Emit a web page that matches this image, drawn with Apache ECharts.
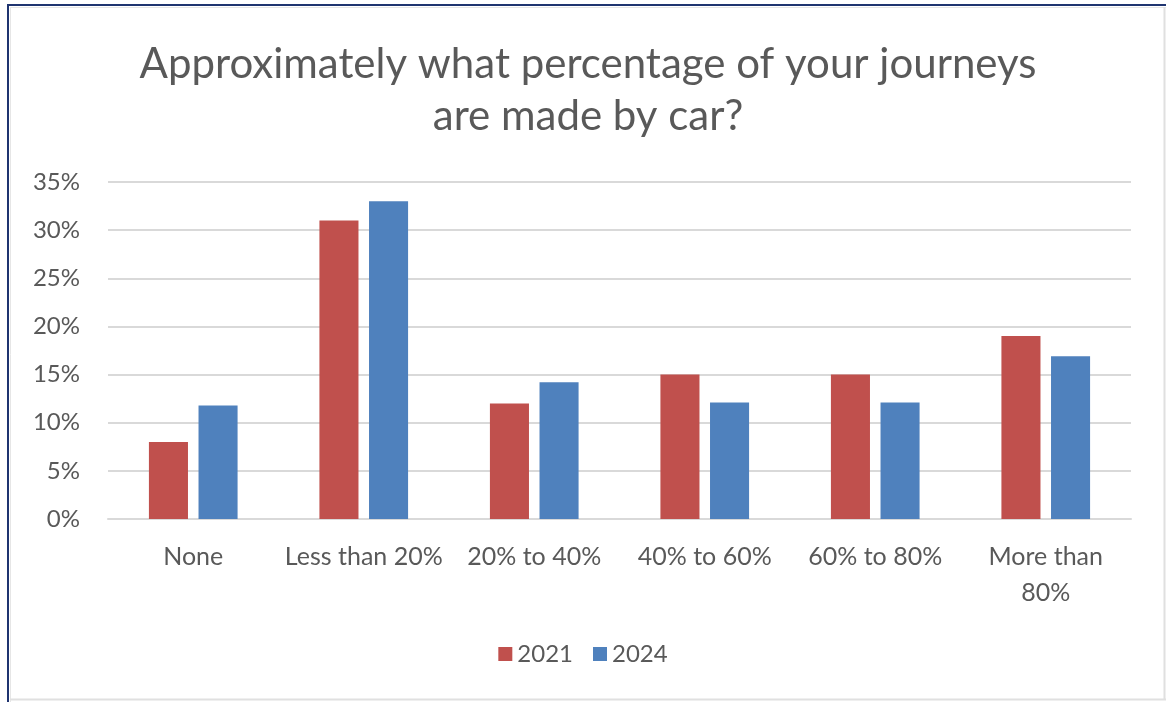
<!DOCTYPE html>
<html>
<head>
<meta charset="utf-8">
<script src="https://cdn.jsdelivr.net/npm/echarts@6/dist/echarts.min.js"></script>
<style>html,body{margin:0;padding:0;background:#fff}#main{width:1166px;height:702px}</style>
</head>
<body>
<div id="main"></div>
<script>
const categories = ['None', 'Less than 20%', '20% to 40%', '40% to 60%', '60% to 80%', 'More than\n80%'];
const seriesNames = ['2021', '2024'];
const values2021 = [8, 31, 12, 15, 15, 19];
const values2024 = [11.8, 33, 14.2, 12.1, 12.1, 16.9];
const yTicks = { min: 0, max: 35, interval: 5 };

const FONT = 'Lato';
const TXT = '#595959';
const chart = echarts.init(document.getElementById('main'));
chart.setOption({
  backgroundColor: '#fff',
  animation: false,
  title: {
    text: 'Approximately what percentage of your journeys\nare made by car?',
    left: 588,
    textAlign: 'center',
    top: 38,
    padding: 0,
    textStyle: { fontFamily: FONT, fontSize: 42, fontWeight: 'normal', color: TXT, lineHeight: 52 }
  },
  legend: {
    data: seriesNames,
    bottom: 31,
    left: 'center',
    itemWidth: 14,
    itemHeight: 14,
    itemGap: 20,
    icon: 'rect',
    textStyle: { fontFamily: FONT, fontSize: 24, color: TXT }
  },
  grid: { left: 108, right: 35, top: 182, bottom: 183 },
  xAxis: {
    type: 'category',
    data: categories,
    axisLine: { lineStyle: { color: '#D9D9D9', width: 2 } },
    axisTick: { show: false },
    axisLabel: { fontFamily: FONT, fontSize: 25, color: TXT, margin: 20, lineHeight: 36, interval: 0 }
  },
  yAxis: {
    type: 'value',
    min: yTicks.min,
    max: yTicks.max,
    interval: yTicks.interval,
    axisLine: { show: false },
    axisTick: { show: false },
    splitLine: { lineStyle: { color: '#D9D9D9', width: 2 } },
    axisLabel: { fontFamily: FONT, fontSize: 24, color: TXT, margin: 28, formatter: '{value}%' }
  },
  series: [
    { name: seriesNames[0], type: 'bar', data: values2021, itemStyle: { color: '#C0504D' }, barGap: '27%', barCategoryGap: '48%' },
    { name: seriesNames[1], type: 'bar', data: values2024, itemStyle: { color: '#4F81BD' }, barGap: '27%', barCategoryGap: '48%' }
  ],
  graphic: [
    { type: 'line', shape: { x1: 8, y1: 5, x2: 1166, y2: 5 }, style: { stroke: '#1F3470', lineWidth: 2 }, silent: true },
    { type: 'line', shape: { x1: 8, y1: 4, x2: 8, y2: 702 }, style: { stroke: '#1F3470', lineWidth: 2 }, silent: true },
    { type: 'line', shape: { x1: 10, y1: 7.5, x2: 1166, y2: 7.5 }, style: { stroke: '#E6E6E6', lineWidth: 1 }, silent: true },
    { type: 'line', shape: { x1: 10.5, y1: 7, x2: 10.5, y2: 702 }, style: { stroke: '#E6E6E6', lineWidth: 1 }, silent: true },
    { type: 'line', shape: { x1: 1164.5, y1: 7, x2: 1164.5, y2: 700 }, style: { stroke: '#E0E0E0', lineWidth: 2 }, silent: true },
    { type: 'line', shape: { x1: 10, y1: 699.5, x2: 1166, y2: 699.5 }, style: { stroke: '#E0E0E0', lineWidth: 2 }, silent: true }
  ]
});
</script>
</body>
</html>
